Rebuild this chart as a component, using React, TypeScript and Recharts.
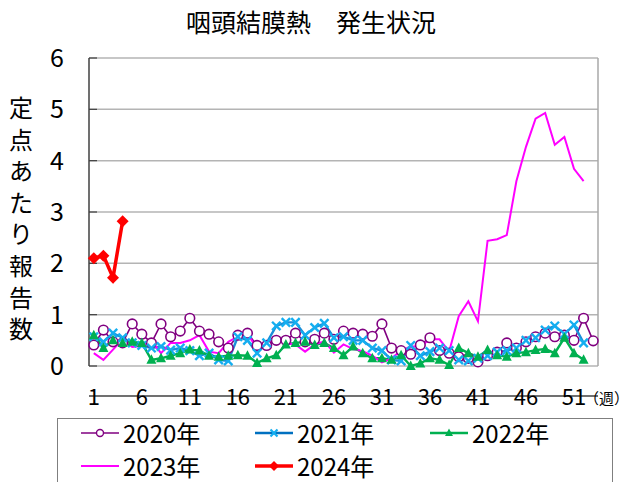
import React from "react";
import { LineChart, Line, XAxis, YAxis, CartesianGrid } from "recharts";

const FONT = "'Noto Sans CJK JP', 'Noto Sans', sans-serif";

const WEEKS = Array.from({ length: 53 }, (_, i) => i + 1);
const X_LABELS = [1, 6, 11, 16, 21, 26, 31, 36, 41, 46, 51];
const Y_TICKS = [0, 1, 2, 3, 4, 5, 6];
// band edges between weeks, for the small inward tick marks
const WEEK_EDGES = Array.from({ length: 54 }, (_, i) => i + 0.5);

const Y2020 = [
  0.41, 0.7, 0.47, 0.45, 0.82, 0.62, 0.45, 0.82, 0.57, 0.68,
  0.93, 0.68, 0.62, 0.47, 0.35, 0.6, 0.64, 0.4, 0.4, 0.5,
  0.5, 0.64, 0.47, 0.52, 0.64, 0.52, 0.68, 0.64, 0.62, 0.58,
  0.82, 0.35, 0.3, 0.23, 0.41, 0.55, 0.3, 0.25, 0.18, 0.15,
  0.08, 0.2, 0.27, 0.45, 0.35, 0.47, 0.57, 0.64, 0.57, 0.6,
  0.5, 0.93, 0.49,
];
const Y2021 = [
  0.57, 0.47, 0.64, 0.55, 0.45, 0.4, 0.35, 0.38, 0.31, 0.35,
  0.3, 0.2, 0.25, 0.12, 0.1, 0.57, 0.5, 0.25, 0.45, 0.78,
  0.85, 0.85, 0.6, 0.75, 0.83, 0.55, 0.57, 0.5, 0.5, 0.35,
  0.3, 0.12, 0.1, 0.4, 0.2, 0.28, 0.35, 0.3, 0.12, 0.1,
  0.15, 0.2, 0.27, 0.3, 0.35, 0.5, 0.55, 0.7, 0.78, 0.62,
  0.8, 0.45,
];
const Y2022 = [
  0.6, 0.35, 0.5, 0.45, 0.47, 0.45, 0.12, 0.15, 0.2, 0.25,
  0.32, 0.3, 0.2, 0.18, 0.2, 0.21, 0.2, 0.06, 0.15, 0.21,
  0.42, 0.45, 0.47, 0.41, 0.45, 0.35, 0.21, 0.38, 0.25, 0.15,
  0.15, 0.12, 0.21, 0.0, 0.05, 0.15, 0.12, 0.02, 0.35, 0.25,
  0.18, 0.31, 0.21, 0.18, 0.25, 0.27, 0.31, 0.33, 0.25, 0.55,
  0.25, 0.12,
];
const Y2023 = [
  0.25, 0.12, 0.32, 0.52, 0.37, 0.39, 0.49, 0.25, 0.45, 0.45,
  0.5, 0.6, 0.28, 0.25, 0.47, 0.57, 0.62, 0.35, 0.48, 0.5,
  0.45, 0.42, 0.28, 0.42, 0.48, 0.26, 0.42, 0.33, 0.29, 0.2,
  0.07, 0.15, 0.3, 0.38, 0.38, 0.52, 0.52, 0.28, 0.97, 1.26,
  0.87, 2.44, 2.47, 2.55, 3.6, 4.27, 4.82, 4.93, 4.31, 4.46,
  3.84, 3.6,
];
const Y2024 = [2.1, 2.15, 1.72, 2.82];

const rows = WEEKS.map((w, i) => ({
  week: w,
  y2020: Y2020[i],
  y2021: Y2021[i],
  y2022: Y2022[i],
  y2023: Y2023[i],
  y2024: Y2024[i],
}));

const PURPLE = "#800080";
const BLUE_LINE = "#1a8fd8";
const BLUE_MARK = "#14aef0";
const GREEN = "#00b050";
const MAGENTA = "#ff00ff";
const RED = "#ff0000";

function CircleDot({ cx, cy }: any) {
  if (cx == null || cy == null) return null;
  return <circle cx={cx} cy={cy} r={4.8} fill="#fff" stroke={PURPLE} strokeWidth={1.6} />;
}

function CrossDot({ cx, cy }: any) {
  if (cx == null || cy == null) return null;
  const s = 4.2;
  return (
    <g stroke={BLUE_MARK} strokeWidth={2.4}>
      <line x1={cx - s} y1={cy - s} x2={cx + s} y2={cy + s} />
      <line x1={cx - s} y1={cy + s} x2={cx + s} y2={cy - s} />
    </g>
  );
}

function TriangleDot({ cx, cy }: any) {
  if (cx == null || cy == null) return null;
  return <polygon points={`${cx},${cy - 5.5} ${cx - 5},${cy + 4} ${cx + 5},${cy + 4}`} fill={GREEN} />;
}

function DiamondDot({ cx, cy }: any) {
  if (cx == null || cy == null) return null;
  return <polygon points={`${cx},${cy - 6} ${cx + 6},${cy} ${cx},${cy + 6} ${cx - 6},${cy}`} fill={RED} />;
}

function XTick({ x, y, payload }: any) {
  const v = payload?.value;
  return (
    <g>
      <text x={x} y={y} dy={39} textAnchor="middle" fontSize={22} fill="#000" fontFamily={FONT}>
        {v}
      </text>
      {v === 51 && (
        <text x={x + 10} y={y} dy={38} textAnchor="start" fontSize={15} fill="#000" fontFamily={FONT}>
          （週）
        </text>
      )}
    </g>
  );
}

const LEGEND_ITEMS = [
  { name: "2020年", color: PURPLE, width: 1.6, mark: "circle", left: 81, top: 433 },
  { name: "2021年", color: "#0070c0", width: 2.5, mark: "cross", left: 255, top: 433 },
  { name: "2022年", color: GREEN, width: 2.5, mark: "triangle", left: 430, top: 433 },
  { name: "2023年", color: MAGENTA, width: 2, mark: "none", left: 81, top: 466 },
  { name: "2024年", color: RED, width: 3.5, mark: "diamond", left: 255, top: 466 },
];

function LegendIcon({ item }: { item: (typeof LEGEND_ITEMS)[number] }) {
  const cx = 19;
  const cy = 8;
  let mark: React.ReactNode = null;
  if (item.mark === "circle") mark = <circle cx={cx} cy={cy} r={3.5} fill="#fff" stroke={PURPLE} strokeWidth={1.4} />;
  if (item.mark === "cross")
    mark = (
      <g stroke={BLUE_MARK} strokeWidth={2.2}>
        <line x1={cx - 3.5} y1={cy - 3.5} x2={cx + 3.5} y2={cy + 3.5} />
        <line x1={cx - 3.5} y1={cy + 3.5} x2={cx + 3.5} y2={cy - 3.5} />
      </g>
    );
  if (item.mark === "triangle") mark = <polygon points={`${cx},${cy - 4.5} ${cx - 4},${cy + 3} ${cx + 4},${cy + 3}`} fill={GREEN} />;
  if (item.mark === "diamond") mark = <polygon points={`${cx},${cy - 5} ${cx + 5},${cy} ${cx},${cy + 5} ${cx - 5},${cy}`} fill={RED} />;
  return (
    <svg width={38} height={16} style={{ display: "block" }}>
      <line x1={0} y1={cy} x2={38} y2={cy} stroke={item.color} strokeWidth={item.width} />
      {mark}
    </svg>
  );
}

export default function App() {
  return (
    <div
      style={{
        position: "absolute",
        left: 0,
        top: 0,
        width: 633,
        height: 482,
        overflow: "hidden",
        background: "#fff",
        fontFamily: FONT,
      }}
    >
      <div
        style={{
          position: "absolute",
          left: 0,
          top: 7,
          width: 622,
          textAlign: "center",
          fontSize: 25,
          lineHeight: "28px",
          color: "#000",
          whiteSpace: "pre",
        }}
      >
        咽頭結膜熱　発生状況
      </div>

      <div
        style={{
          position: "absolute",
          left: 9,
          top: 91,
          width: 24,
          fontSize: 24,
          lineHeight: "31.6px",
          color: "#000",
        }}
      >
        定点あたり報告数
      </div>

      <LineChart width={633} height={482} data={rows} margin={{ top: 58, right: 34, bottom: 85, left: 0 }}>
        <CartesianGrid xAxisId="main" yAxisId="left" vertical={false} stroke="#b4b4b4" strokeWidth={1.5} />
        <XAxis
          xAxisId="minor"
          type="number"
          domain={[0.5, 53.5]}
          ticks={WEEK_EDGES}
          height={1}
          tick={false}
          tickSize={-8}
          axisLine={{ stroke: "#404040", strokeWidth: 1.5 }}
          tickLine={{ stroke: "#404040", strokeWidth: 1.2 }}
        />
        <XAxis
          xAxisId="main"
          type="number"
          dataKey="week"
          domain={[0.5, 53.5]}
          ticks={X_LABELS}
          interval={0}
          height={30}
          tickSize={0}
          tickMargin={0}
          axisLine={false}
          tickLine={false}
          tick={<XTick />}
        />
        <YAxis
          yAxisId="left"
          domain={[0, 6]}
          ticks={Y_TICKS}
          interval={0}
          width={89}
          tickSize={-8}
          tickMargin={33}
          axisLine={{ stroke: "#404040", strokeWidth: 1.5 }}
          tickLine={{ stroke: "#404040", strokeWidth: 1.2 }}
          tick={{ fontSize: 25, fill: "#000", fontFamily: FONT }}
        />
        <YAxis
          yAxisId="right"
          orientation="right"
          domain={[0, 6]}
          width={1}
          tick={false}
          tickLine={false}
          axisLine={{ stroke: "#a8a8a8", strokeWidth: 1.5 }}
        />
        <Line
          xAxisId="main"
          yAxisId="left"
          dataKey="y2020"
          stroke={PURPLE}
          strokeWidth={1.6}
          dot={<CircleDot />}
          activeDot={false}
          isAnimationActive={false}
        />
        <Line
          xAxisId="main"
          yAxisId="left"
          dataKey="y2021"
          stroke={BLUE_LINE}
          strokeWidth={2.4}
          dot={<CrossDot />}
          activeDot={false}
          isAnimationActive={false}
        />
        <Line
          xAxisId="main"
          yAxisId="left"
          dataKey="y2022"
          stroke={GREEN}
          strokeWidth={2.4}
          dot={<TriangleDot />}
          activeDot={false}
          isAnimationActive={false}
        />
        <Line
          xAxisId="main"
          yAxisId="left"
          dataKey="y2023"
          stroke={MAGENTA}
          strokeWidth={2}
          dot={false}
          activeDot={false}
          isAnimationActive={false}
        />
        <Line
          xAxisId="main"
          yAxisId="left"
          dataKey="y2024"
          stroke={RED}
          strokeWidth={3.5}
          dot={<DiamondDot />}
          activeDot={false}
          isAnimationActive={false}
        />
      </LineChart>

      <div
        style={{
          position: "absolute",
          left: 57,
          top: 418,
          width: 554,
          height: 70,
          border: "1px solid #7f7f7f",
        }}
      />
      {LEGEND_ITEMS.map((item) => (
        <div
          key={item.name}
          style={{
            position: "absolute",
            left: item.left,
            top: item.top - 12,
            height: 24,
            display: "flex",
            alignItems: "center",
            gap: 4,
            fontSize: 24,
            lineHeight: "24px",
            color: "#000",
          }}
        >
          <LegendIcon item={item} />
          <span>{item.name}</span>
        </div>
      ))}
    </div>
  );
}
